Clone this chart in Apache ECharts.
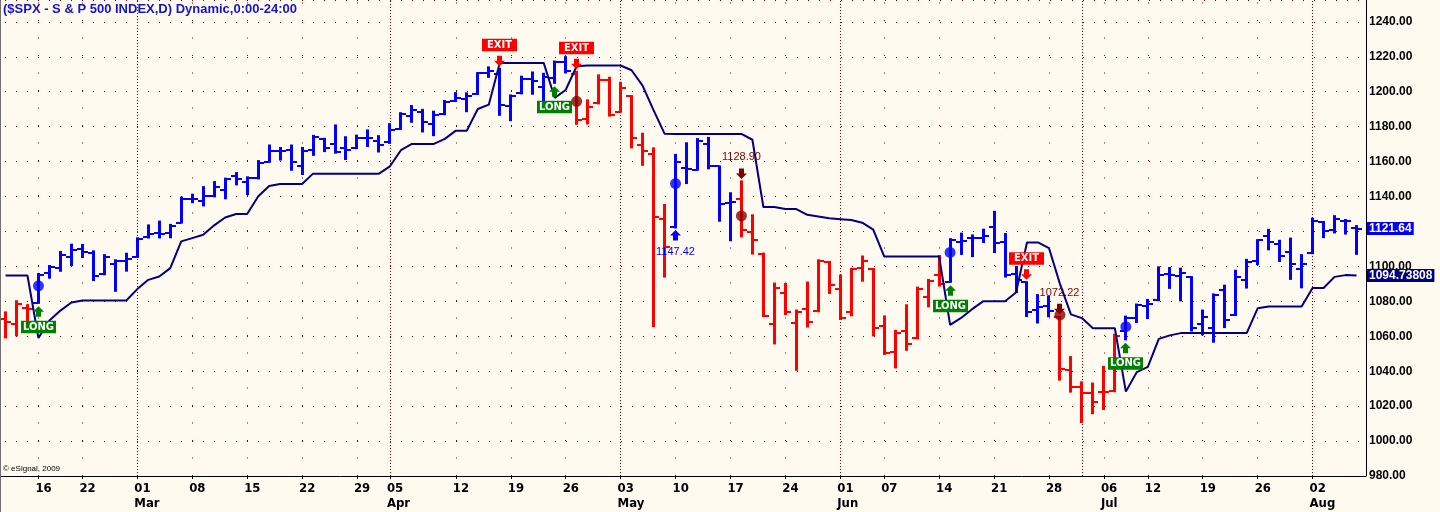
<!DOCTYPE html>
<html>
<head>
<meta charset="utf-8">
<title>$SPX Dynamic</title>
<script src="https://cdn.jsdelivr.net/npm/echarts@6.0.0/dist/echarts.min.js"></script>
<style>
html,body{margin:0;padding:0;background:#FFFAF0;overflow:hidden;}
#chart{width:1440px;height:512px;}
</style>
</head>
<body>
<div id="chart"></div>
<script>
// ---------------- DATA ----------------
const dates = [
'2010-02-10','2010-02-11','2010-02-12','2010-02-16','2010-02-17','2010-02-18','2010-02-19','2010-02-22','2010-02-23','2010-02-24','2010-02-25','2010-02-26',
'2010-03-01','2010-03-02','2010-03-03','2010-03-04','2010-03-05','2010-03-08','2010-03-09','2010-03-10','2010-03-11','2010-03-12','2010-03-15','2010-03-16','2010-03-17','2010-03-18','2010-03-19','2010-03-22','2010-03-23','2010-03-24','2010-03-25','2010-03-26','2010-03-29','2010-03-30','2010-03-31',
'2010-04-01','2010-04-05','2010-04-06','2010-04-07','2010-04-08','2010-04-09','2010-04-12','2010-04-13','2010-04-14','2010-04-15','2010-04-16','2010-04-19','2010-04-20','2010-04-21','2010-04-22','2010-04-23','2010-04-26','2010-04-27','2010-04-28','2010-04-29','2010-04-30',
'2010-05-03','2010-05-04','2010-05-05','2010-05-06','2010-05-07','2010-05-10','2010-05-11','2010-05-12','2010-05-13','2010-05-14','2010-05-17','2010-05-18','2010-05-19','2010-05-20','2010-05-21','2010-05-24','2010-05-25','2010-05-26','2010-05-27','2010-05-28',
'2010-06-01','2010-06-02','2010-06-03','2010-06-04','2010-06-07','2010-06-08','2010-06-09','2010-06-10','2010-06-11','2010-06-14','2010-06-15','2010-06-16','2010-06-17','2010-06-18','2010-06-21','2010-06-22','2010-06-23','2010-06-24','2010-06-25','2010-06-28','2010-06-29','2010-06-30',
'2010-07-01','2010-07-02','2010-07-06','2010-07-07','2010-07-08','2010-07-09','2010-07-12','2010-07-13','2010-07-14','2010-07-15','2010-07-16','2010-07-19','2010-07-20','2010-07-21','2010-07-22','2010-07-23','2010-07-26','2010-07-27','2010-07-28','2010-07-29','2010-07-30',
'2010-08-02','2010-08-03','2010-08-04','2010-08-05','2010-08-06'];

const opens = [
1069.68,1067.10,1075.95,1079.13,1096.14,1099.03,1105.49,1110.00,1107.49,1095.89,1101.24,1103.10,
1105.36,1117.01,1119.36,1119.12,1125.12,1138.40,1137.56,1140.22,1143.96,1151.71,1148.53,1150.83,1159.94,1166.13,1166.68,1157.25,1166.47,1172.70,1170.03,1167.58,1167.71,1173.75,1171.75,
1171.23,1178.71,1186.01,1188.23,1181.75,1187.47,1194.94,1195.94,1198.69,1210.77,1210.17,1192.06,1199.04,1207.16,1202.52,1207.87,1217.07,1209.92,1184.59,1193.30,1206.77,
1188.58,1197.50,1169.24,1164.38,1127.04,1122.27,1156.39,1155.43,1170.04,1157.19,1136.52,1138.78,1119.57,1107.34,1067.26,1084.78,1067.42,1075.51,1074.27,1102.59,
1087.30,1073.89,1098.82,1098.43,1065.84,1050.81,1062.75,1058.77,1082.65,1095.00,1091.21,1114.02,1115.98,1116.16,1122.79,1113.90,1095.57,1090.93,1075.10,1077.50,1071.10,1040.56,
1031.10,1027.65,1028.09,1028.54,1062.92,1070.50,1077.23,1080.65,1095.61,1094.46,1093.85,1066.85,1064.53,1086.67,1072.14,1092.17,1102.89,1117.36,1112.84,1108.07,1098.44,
1107.53,1125.34,1121.06,1125.78,1122.07];

const highs = [
1073.67,1080.04,1077.81,1095.67,1100.23,1108.24,1112.42,1112.29,1108.58,1106.42,1103.50,1107.24,
1116.11,1123.46,1125.64,1123.73,1139.38,1141.05,1145.37,1148.26,1150.24,1153.41,1150.98,1160.28,1169.20,1167.77,1169.19,1167.82,1174.72,1173.04,1180.69,1173.93,1174.85,1177.83,1174.56,
1181.43,1187.73,1191.80,1189.60,1188.55,1194.66,1199.20,1199.04,1210.65,1213.92,1213.16,1197.87,1208.58,1210.99,1210.27,1217.28,1219.80,1211.38,1195.05,1209.36,1207.99,
1205.13,1197.50,1175.95,1167.58,1135.13,1163.85,1170.48,1172.87,1173.57,1157.19,1141.88,1148.66,1129.23,1107.34,1090.16,1089.95,1074.75,1090.75,1103.52,1102.59,
1094.77,1098.56,1105.67,1098.43,1071.36,1063.15,1077.74,1087.85,1092.25,1105.91,1115.59,1118.74,1117.72,1121.01,1131.23,1118.50,1099.64,1090.93,1083.56,1082.60,1071.10,1048.08,
1033.58,1032.95,1042.50,1060.89,1071.25,1078.16,1080.78,1099.46,1099.08,1098.66,1093.85,1074.70,1083.94,1088.96,1097.50,1103.73,1115.01,1120.95,1114.66,1115.90,1106.44,
1127.30,1125.44,1128.75,1126.56,1123.06];

const lows = [
1059.34,1060.59,1062.97,1079.13,1093.54,1097.48,1100.80,1105.38,1092.18,1095.50,1086.02,1097.56,
1105.36,1116.51,1116.58,1116.66,1125.12,1136.77,1134.90,1140.09,1138.99,1146.97,1141.45,1150.35,1159.94,1161.16,1155.33,1152.88,1163.83,1166.01,1165.09,1161.48,1167.71,1168.92,1165.77,
1170.69,1178.71,1182.77,1177.25,1175.12,1187.15,1194.71,1188.82,1198.69,1208.50,1186.77,1183.68,1199.04,1198.85,1190.19,1205.10,1211.07,1181.62,1181.81,1193.30,1186.32,
1188.58,1168.12,1158.15,1065.79,1094.15,1122.27,1147.71,1155.43,1156.14,1126.14,1114.96,1117.20,1107.34,1071.58,1055.90,1072.70,1040.78,1065.59,1074.27,1084.78,
1069.89,1072.03,1091.81,1060.50,1049.86,1042.17,1052.25,1058.77,1077.12,1089.03,1091.21,1107.13,1105.87,1113.93,1108.24,1094.18,1085.31,1071.60,1067.89,1071.45,1035.18,1028.33,
1010.91,1015.93,1018.35,1028.54,1058.24,1068.10,1070.45,1080.65,1087.68,1080.53,1063.32,1061.11,1056.88,1065.25,1072.14,1087.88,1101.30,1109.78,1103.11,1092.82,1088.01,
1107.53,1116.76,1119.46,1118.81,1107.17];

const closes = [
1068.13,1078.47,1075.51,1094.87,1099.51,1106.75,1109.17,1108.01,1094.60,1105.24,1102.94,1104.49,
1115.71,1118.31,1118.79,1122.97,1138.70,1138.50,1140.45,1145.61,1150.24,1149.99,1150.51,1159.46,1166.21,1165.83,1159.90,1165.81,1174.17,1167.72,1165.73,1166.59,1173.22,1173.27,1169.43,
1178.10,1187.44,1189.44,1182.45,1186.44,1194.37,1196.48,1197.30,1210.65,1211.67,1192.13,1197.52,1207.17,1205.94,1208.67,1217.28,1212.05,1183.71,1191.36,1206.78,1186.69,
1202.26,1173.60,1165.87,1128.15,1110.88,1159.73,1155.79,1171.67,1157.44,1135.68,1136.94,1120.80,1115.05,1071.59,1087.69,1073.65,1074.03,1067.95,1103.06,1089.41,
1070.71,1098.38,1102.83,1064.88,1050.47,1062.00,1055.69,1086.84,1091.60,1089.63,1115.23,1114.61,1116.04,1117.51,1113.20,1095.31,1092.04,1073.69,1076.76,1074.57,1041.24,1030.71,
1027.37,1022.58,1028.06,1060.27,1070.25,1077.96,1078.75,1095.34,1095.17,1096.48,1064.88,1071.25,1083.48,1069.59,1093.67,1102.66,1115.01,1113.84,1106.13,1101.53,1101.60,
1125.86,1120.46,1127.24,1125.81,1121.64];

// Dynamic trailing stop line
const stopLine = [
1094.8,1094.8,1094.8,1059.0,1069.0,1074.7,1079.3,1080.5,1080.5,1080.5,1080.5,1080.5,
1087.0,1092.3,1094.2,1099.0,1114.3,1116.2,1118.1,1123.5,1128.0,1130.0,1130.0,1140.0,1146.0,1147.2,1147.2,1147.2,1153.1,1153.1,1153.1,1153.1,1153.1,1153.1,1153.1,
1157.3,1166.5,1170.1,1170.1,1170.1,1173.0,1177.7,1177.7,1190.1,1192.6,1216.5,1216.5,1216.5,1216.5,1216.5,1196.5,1201.0,1214.6,1215.0,1215.0,1215.0,
1215.0,1212.3,1203.5,1189.5,1176.0,1175.8,1175.8,1175.8,1175.8,1175.8,1175.8,1175.8,1172.5,1134.0,1134.0,1132.8,1132.8,1129.5,1128.5,1127.5,
1127.0,1126.5,1125.0,1121.0,1105.7,1105.7,1105.7,1105.7,1105.7,1105.7,1066.5,1070.5,1075.5,1080.0,1080.0,1080.0,1085.0,1113.7,1113.7,1110.5,1090.0,1072.5,
1070.4,1064.6,1064.6,1064.6,1028.3,1039.5,1042.5,1058.5,1060.5,1061.8,1061.8,1061.8,1061.8,1061.8,1061.8,1061.8,1076.0,1077.0,1077.0,1077.0,1077.0,
1087.6,1087.6,1094.0,1095.0,1094.73808];

// periods in a long position (blue bars); other bars are red
const longRanges = [['2010-02-16','2010-04-26'],['2010-05-10','2010-05-17'],['2010-06-15','2010-06-28'],['2010-07-08','2010-08-06']];

// signals
const longSignalDates = ['2010-02-16','2010-04-23','2010-06-15','2010-07-08'];
const exitSignalDates = ['2010-04-16','2010-04-27','2010-06-24'];
const entryFillDates  = ['2010-02-16','2010-05-10','2010-06-15','2010-07-08'];
const entryFillPrices = [1088.9, 1147.42, 1108.0, 1065.5];
const exitFillDates   = ['2010-04-27','2010-05-18','2010-06-29'];
const exitFillPrices  = [1194.5, 1128.90, 1072.22];
const noteDates  = ['2010-05-10','2010-05-18','2010-06-29'];
const noteKinds  = ['entry','exit','exit'];
const noteValues = [1147.42, 1128.90, 1072.22];

// x-axis tick labels
const xTickDates = ['2010-02-16','2010-02-22','2010-03-01','2010-03-08','2010-03-15','2010-03-22','2010-03-29','2010-04-01','2010-04-12','2010-04-19','2010-04-26','2010-05-03','2010-05-10','2010-05-17','2010-05-24','2010-06-01','2010-06-07','2010-06-14','2010-06-21','2010-06-28','2010-07-06','2010-07-12','2010-07-19','2010-07-26','2010-08-02'];
const xTickText  = ['16','22','01\nMar','08','15','22','29','05\nApr','12','19','26','03\nMay','10','17','24','01\nJun','07','14','21','28','06\nJul','12','19','26','02\nAug'];
const monthLineDates = ['2010-03-01','2010-04-01','2010-05-03','2010-06-01','2010-07-01','2010-08-02'];

const titleText = '($SPX - S & P 500 INDEX,D) Dynamic,0:00-24:00';
const copyrightText = '\u00A9 eSignal, 2009';

// ---------------- STYLE ----------------
const BLUE = '#0000FF', RED = '#FF0000', NAVY = '#000080', GREEN = '#008000', MAROON = '#800000', DOTRED = '#880000';
const NARROW = "'Liberation Sans Narrow','DejaVu Sans Condensed','Arial Narrow',sans-serif";
const SANS = "'Liberation Sans',Arial,sans-serif";

const J = d => dates.indexOf(d);
const isLong = dates.map(d => longRanges.some(r => d >= r[0] && d <= r[1]) ? 1 : 0);
const ohlc = dates.map((d, j) => [j, opens[j], highs[j], lows[j], closes[j], isLong[j]]);
const tickSet = new Set(xTickDates);
const tickMap = {}; xTickDates.forEach((d, k) => tickMap[d] = xTickText[k]);
const weekLineDates = xTickDates.filter(d => monthLineDates.indexOf(d) < 0);
const last = dates.length - 1;

const cx = px => Math.round(px - 0.5) + 0.5;

function arrow(x, tip, s, color) {
  const hw = 5.5, sw = 2.5, hh = 5.5, L = 10.5;
  return {type: 'polygon', shape: {points: [[x, tip], [x + hw, tip + s * hh], [x + sw, tip + s * hh], [x + sw, tip + s * L], [x - sw, tip + s * L], [x - sw, tip + s * hh], [x - hw, tip + s * hh]]}, style: {fill: color}};
}
function badge(x, top, text, color) {
  return [
    {type: 'rect', shape: {x: x - 17.5, y: top, width: 35, height: 12.5}, style: {fill: color}},
    {type: 'text', style: {text: text, x: x, y: top + 6.5, align: 'center', verticalAlign: 'middle', fill: '#FFFFFF', font: 'bold 10px "DejaVu Sans", sans-serif'}}
  ];
}

const chart = echarts.init(document.getElementById('chart'), null, {renderer: 'canvas'});

const option = {
  animation: false,
  backgroundColor: '#FFFAF0',
  title: [
    {text: titleText, left: 3, top: 3, padding: 0, textStyle: {color: '#1414CC', fontSize: 13, fontWeight: 'bold', fontFamily: SANS}},
    {text: copyrightText, left: 3, top: 465, padding: 0, textStyle: {color: '#000', fontSize: 8, fontWeight: 'normal', fontFamily: SANS}}
  ],
  grid: {left: -2, top: 0, width: 1364, height: 476, containLabel: false},
  xAxis: {
    type: 'category', data: dates, boundaryGap: true,
    axisLine: {lineStyle: {color: '#000', width: 1}},
    axisTick: {show: true, alignWithLabel: true, length: 3, interval: (i, v) => tickSet.has(v), lineStyle: {color: '#000'}},
    axisLabel: {
      interval: (i, v) => tickSet.has(v), formatter: v => tickMap[v] || '',
      align: 'left', color: '#000', fontWeight: 'bold', fontSize: 13, lineHeight: 15, margin: 5, fontFamily: NARROW,
      padding: [0, 0, 0, -3]
    },
    splitLine: {show: false}
  },
  yAxis: {
    type: 'value', position: 'right', min: 980, max: 1252.5, interval: 20, offset: 4,
    axisLine: {show: true, lineStyle: {color: '#000', width: 1}},
    axisTick: {show: false},
    axisLabel: {formatter: v => v.toFixed(2), color: '#000', fontWeight: 'bold', fontSize: 12, fontFamily: SANS, margin: 3, showMaxLabel: false},
    splitLine: {show: true, lineStyle: {color: MAROON, width: 1, type: [1, 10], dashOffset: 6}}
  },
  graphic: [
    {type: 'line', shape: {x1: 0.5, y1: 0, x2: 0.5, y2: 512}, style: {stroke: '#707070', lineWidth: 1}, z: 100},
    {type: 'line', shape: {x1: 1360, y1: 476.5, x2: 1366, y2: 476.5}, style: {stroke: '#000', lineWidth: 1}}
  ],
  series: [
    { // OHLC bars
      type: 'custom', name: 'SPX', z: 2, silent: true,
      data: ohlc, encode: {x: 0, y: [1, 2, 3, 4]},
      renderItem: (params, api) => {
        const j = api.value(0);
        const ph = api.coord([j, api.value(2)]);
        const pl = api.coord([j, api.value(3)]);
        const po = api.coord([j, api.value(1)]);
        const pc = api.coord([j, api.value(4)]);
        const col = api.value(5) ? BLUE : RED;
        const x = cx(ph[0]);
        const yo = Math.round(po[1]), yc = Math.round(pc[1]);
        return {type: 'group', children: [
          {type: 'line', shape: {x1: x, y1: ph[1] - 1, x2: x, y2: pl[1] + 1}, style: {stroke: col, lineWidth: 3}},
          {type: 'line', shape: {x1: x - 5.5, y1: yo, x2: x, y2: yo}, style: {stroke: col, lineWidth: 2}},
          {type: 'line', shape: {x1: x, y1: yc, x2: x + 5.5, y2: yc}, style: {stroke: col, lineWidth: 2}}
        ]};
      },
      markLine: {
        silent: true, symbol: ['none', 'none'], z: 1, animation: false, label: {show: false},
        data: weekLineDates.map(d => ({xAxis: d, lineStyle: {color: MAROON, width: 1, type: [1, 16.5]}}))
          .concat(monthLineDates.map(d => ({xAxis: d, lineStyle: {color: MAROON, width: 1, type: [1, 2]}})))
      }
    },
    { // trailing stop line
      type: 'line', name: 'Dynamic', data: stopLine, z: 3, silent: true,
      symbol: 'none', lineStyle: {color: NAVY, width: 2}, emphasis: {disabled: true},
      markLine: {
        silent: true, symbol: ['none', 'none'], z: 10, animation: false,
        data: [
          {yAxis: closes[last], lineStyle: {color: 'transparent', width: 0},
            label: {show: true, position: 'end', distance: 5, formatter: closes[last].toFixed(2), color: '#fff', backgroundColor: BLUE, fontWeight: 'bold', fontSize: 12, fontFamily: SANS, padding: [1, 2, 0, 2]}},
          {yAxis: stopLine[last], lineStyle: {color: 'transparent', width: 0},
            label: {show: true, position: 'end', distance: 5, formatter: stopLine[last].toFixed(5), color: '#fff', backgroundColor: NAVY, fontWeight: 'bold', fontSize: 12, fontFamily: SANS, padding: [1, 2, 0, 2]}}
        ]
      }
    },
    { // fill notes (arrows + price text)
      type: 'custom', z: 4, silent: true,
      data: noteDates.map((d, k) => [J(d), noteKinds[k] === 'entry' ? lows[J(d)] : highs[J(d)]]),
      renderItem: (params, api) => {
        const k = params.dataIndex;
        const p = api.coord([api.value(0), api.value(1)]);
        const x = cx(p[0]);
        const txt = noteValues[k].toFixed(2);
        if (noteKinds[k] === 'entry') {
          return {type: 'group', children: [
            arrow(x, p[1] + 2.5, 1, BLUE),
            {type: 'text', style: {text: txt, x: x, y: p[1] + 24.5, align: 'center', verticalAlign: 'middle', fill: BLUE, font: '11px ' + SANS}}
          ]};
        }
        return {type: 'group', children: [
          arrow(x, p[1] - 2.5, -1, MAROON),
          {type: 'text', style: {text: txt, x: x, y: p[1] - 24, align: 'center', verticalAlign: 'middle', fill: MAROON, font: '11px ' + SANS}}
        ]};
      }
    },
    { // entry fills
      type: 'scatter', z: 5, silent: true, symbol: 'circle', symbolSize: 11,
      itemStyle: {color: BLUE}, data: entryFillDates.map((d, k) => [J(d), entryFillPrices[k]])
    },
    { // exit fills
      type: 'scatter', z: 5, silent: true, symbol: 'circle', symbolSize: 11,
      itemStyle: {color: DOTRED}, data: exitFillDates.map((d, k) => [J(d), exitFillPrices[k]])
    },
    { // LONG signals
      type: 'custom', z: 6, silent: true,
      data: longSignalDates.map(d => [J(d), lows[J(d)]]),
      renderItem: (params, api) => {
        const p = api.coord([api.value(0), api.value(1)]);
        const x = cx(p[0]);
        const tip = p[1] + 3.5;
        return {type: 'group', children: [arrow(x, tip, 1, GREEN)].concat(badge(x, tip + 14.5, 'LONG', GREEN))};
      }
    },
    { // EXIT signals
      type: 'custom', z: 6, silent: true,
      data: exitSignalDates.map(d => [J(d), highs[J(d)]]),
      renderItem: (params, api) => {
        const p = api.coord([api.value(0), api.value(1)]);
        const x = cx(p[0]);
        const tip = p[1] - 2.5;
        return {type: 'group', children: [arrow(x, tip, -1, RED)].concat(badge(x, tip - 27.5, 'EXIT', RED))};
      }
    }
  ]
};
chart.setOption(option);
</script>
</body>
</html>
